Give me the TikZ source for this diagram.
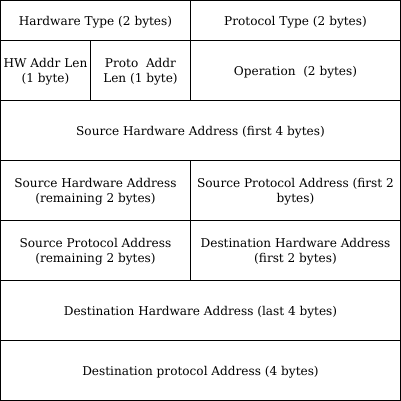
\documentclass[tikz,border=0pt]{standalone}
\usepackage{fontspec}
\setmainfont{DejaVu Serif}
\begin{document}
\begin{tikzpicture}[x=1pt,y=-1pt,
  cell/.style={draw=black, line width=1pt, rectangle, inner sep=0pt,
    align=center, font=\fontsize{12.1}{15}\selectfont, text=black},
  celltext/.style={inner sep=0pt, align=center,
    font=\fontsize{12.1}{15}\selectfont, text=black}]
\useasboundingbox (-0.5,-0.5) rectangle (400.5,400.5);
\fill[white] (-0.5,-0.5) rectangle (400.5,400.5);
% cell(name, x0, y0, x1, y1, text): framed box plus its centred label
\def\cellbox#1#2#3#4#5#6{%
  \node[cell, minimum width={#4-#2}, minimum height={#5-#3}]
    (#1) at ({(#2+#4)/2},{(#3+#5)/2}) {};
  \node[celltext, yshift=-1.5pt] (#1-label) at (#1.center) {#6};}
\cellbox{hwtype}{0}{0}{190}{40}{Hardware Type (2 bytes)}
\cellbox{prtype}{190}{0}{400}{40}{Protocol Type (2 bytes)}
\cellbox{hwlen}{0}{40}{90}{100}{HW Addr Len\\(1 byte)}
\cellbox{prlen}{90}{40}{190}{100}{Proto\ \ Addr\\Len (1 byte)}
\cellbox{oper}{190}{40}{400}{100}{Operation\ \ (2 bytes)}
\cellbox{sha1}{0}{100}{400}{160}{Source Hardware Address (first 4 bytes)}
\cellbox{sha2}{0}{160}{190}{220}{Source Hardware Address\\(remaining 2 bytes)}
\cellbox{spa1}{190}{160}{400}{220}{Source Protocol Address (first 2\\bytes)}
\cellbox{spa2}{0}{220}{190}{280}{Source Protocol Address\\(remaining 2 bytes)}
\cellbox{dha1}{190}{220}{400}{280}{Destination Hardware Address\\(first 2 bytes)}
\cellbox{dha2}{0}{280}{400}{340}{Destination Hardware Address (last 4 bytes)}
\cellbox{dpa}{0}{340}{400}{400}{Destination protocol Address (4 bytes)}
\end{tikzpicture}
\end{document}
